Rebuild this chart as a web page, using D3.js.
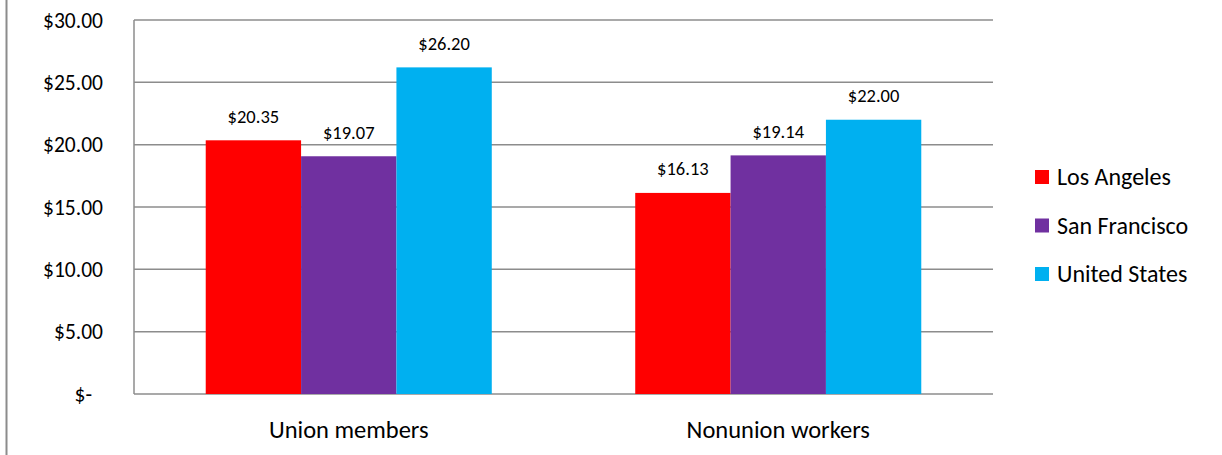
<!DOCTYPE html>
<html>
<head>
<meta charset="utf-8">
<script src="https://cdn.jsdelivr.net/npm/d3@7"></script>
<style>
	body { margin: 0; background: #fff; }
	svg text { font-family: Carlito, Lato, 'Open Sans', sans-serif; fill: #000; }
</style>
</head>
<body>
<div id="chart"></div>
<script>
// Chart data
const categories = ['Union members', 'Nonunion workers'];
const seriesNames = ['Los Angeles', 'San Francisco', 'United States'];
const losAngeles = [20.35, 16.13];
const sanFrancisco = [19.07, 19.14];
const unitedStates = [26.20, 22.00];
const yTicks = [0, 5, 10, 15, 20, 25, 30];

const seriesValues = [losAngeles, sanFrancisco, unitedStates];
const colors = ['#FF0000', '#7030A0', '#00B0F0'];

const width = 1222, height = 455;
const margin = { top: 20, left: 134, right: 229, bottom: 61 };
const innerW = width - margin.left - margin.right;
const innerH = height - margin.top - margin.bottom;

const svg = d3.select('#chart')
	.append('svg')
	.attr('width', width)
	.attr('height', height);

// Outer border on the left edge
svg.append('line')
	.attr('x1', 6.5).attr('x2', 6.5)
	.attr('y1', 0).attr('y2', height)
	.attr('stroke', '#8c8c8c')
	.attr('stroke-width', 2);

const g = svg.append('g')
	.attr('transform', `translate(${margin.left}, ${margin.top})`);

// Scales
const xScale = d3.scaleBand()
	.domain(categories)
	.range([0, innerW]);

const xInner = d3.scaleBand()
	.domain(seriesNames)
	.range([0, xScale.bandwidth() * 0.666])
	.padding(0);

const yScale = d3.scaleLinear()
	.domain([0, 30])
	.range([innerH, 0]);

// Gridlines
g.selectAll('line.grid')
	.data(yTicks)
	.enter()
	.append('line')
	.attr('class', 'grid')
	.attr('x1', 0)
	.attr('x2', innerW)
	.attr('y1', d => yScale(d))
	.attr('y2', d => yScale(d))
	.attr('stroke', '#8c8c8c')
	.attr('stroke-width', 1.5);

// Left axis line
g.append('line')
	.attr('x1', 0).attr('x2', 0)
	.attr('y1', 0).attr('y2', innerH)
	.attr('stroke', '#8c8c8c')
	.attr('stroke-width', 1.5);

// Y tick labels
const yFormat = d => d === 0 ? '$-' : '$' + d3.format('.2f')(d);
g.selectAll('text.ytick')
	.data(yTicks)
	.enter()
	.append('text')
	.attr('class', 'ytick')
	.attr('x', d => d === 0 ? -42 : -31)
	.attr('y', d => yScale(d))
	.attr('dy', '0.35em')
	.attr('text-anchor', 'end')
	.style('font-size', '21.5px')
	.text(yFormat);

// Bars
const groups = g.selectAll('g.cat')
	.data(categories)
	.enter()
	.append('g')
	.attr('class', 'cat')
	.attr('transform', d => `translate(${xScale(d) + xScale.bandwidth() * 0.167}, 0)`);

groups.each(function(cat, ci) {
	const rows = seriesNames.map((s, si) => ({ series: s, value: seriesValues[si][ci], color: colors[si] }));
	const grp = d3.select(this);
	grp.selectAll('rect')
		.data(rows)
		.enter()
		.append('rect')
		.attr('x', d => xInner(d.series))
		.attr('y', d => yScale(d.value))
		.attr('width', xInner.bandwidth())
		.attr('height', d => innerH - yScale(d.value))
		.attr('fill', d => d.color);
	grp.selectAll('text')
		.data(rows)
		.enter()
		.append('text')
		.attr('x', d => xInner(d.series) + xInner.bandwidth() / 2)
		.attr('y', d => yScale(d.value) - 24)
		.attr('dy', '0.35em')
		.attr('text-anchor', 'middle')
		.style('font-size', '18.5px')
		.text(d => '$' + d3.format('.2f')(d.value));
});

// X category labels
g.selectAll('text.xcat')
	.data(categories)
	.enter()
	.append('text')
	.attr('class', 'xcat')
	.attr('x', d => xScale(d) + xScale.bandwidth() / 2)
	.attr('y', innerH + 35)
	.attr('dy', '0.35em')
	.attr('text-anchor', 'middle')
	.style('font-size', '24.5px')
	.text(d => d);

// Legend
const legend = svg.append('g')
	.attr('transform', 'translate(1035, 177)');

const items = legend.selectAll('g')
	.data(seriesNames)
	.enter()
	.append('g')
	.attr('transform', (d, i) => `translate(0, ${i * 48.5})`);

items.append('rect')
	.attr('x', 0)
	.attr('y', -7)
	.attr('width', 14)
	.attr('height', 14)
	.attr('fill', (d, i) => colors[i]);

items.append('text')
	.attr('x', 22)
	.attr('y', 0)
	.attr('dy', '0.35em')
	.style('font-size', '24px')
	.text(d => d);
</script>
</body>
</html>
